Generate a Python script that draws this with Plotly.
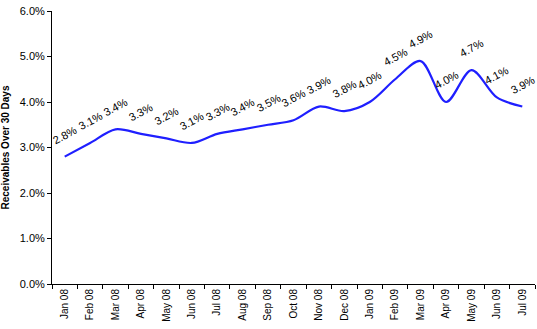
import plotly.graph_objects as go

# Monthly share of receivables more than 30 days past due
months = ["Jan 08", "Feb 08", "Mar 08", "Apr 08", "May 08", "Jun 08", "Jul 08",
          "Aug 08", "Sep 08", "Oct 08", "Nov 08", "Dec 08", "Jan 09", "Feb 09",
          "Mar 09", "Apr 09", "May 09", "Jun 09", "Jul 09"]
pct_over_30 = [2.8, 3.1, 3.4, 3.3, 3.2, 3.1, 3.3, 3.4, 3.5, 3.6, 3.9, 3.8,
               4.0, 4.5, 4.9, 4.0, 4.7, 4.1, 3.9]
y_ticks = [0, 1, 2, 3, 4, 5, 6]

FONT = "Liberation Sans, Arial, sans-serif"

fig = go.Figure()
fig.add_trace(go.Scatter(
    x=months,
    y=[v / 100 for v in pct_over_30],
    mode="lines",
    line=dict(color="#1f1fff", width=2.2, shape="spline", smoothing=0.9),
    hoverinfo="skip",
))

# Rotated value labels above each point
for m, v in zip(months, pct_over_30):
    fig.add_annotation(
        x=m, y=v / 100, xref="x", yref="y",
        text=f"{v:.1f}%", showarrow=False, textangle=-28,
        yshift=22, font=dict(family=FONT, size=11, color="#000000"),
    )

fig.update_layout(
    width=537, height=329,
    margin=dict(l=52, r=2, t=11, b=45),
    paper_bgcolor="white", plot_bgcolor="white",
    showlegend=False,
    font=dict(family=FONT, size=11, color="#000000"),
)
fig.update_xaxes(
    type="category", categoryorder="array", categoryarray=months,
    range=[-0.5, len(months) - 0.5],
    showline=True, linecolor="black", linewidth=1,
    ticks="outside", tickson="boundaries", ticklen=4, tickcolor="black",
    tickangle=-90, tickfont=dict(family=FONT, size=10),
    showgrid=False, zeroline=False,
)
fig.update_yaxes(
    range=[0, 0.06],
    tickvals=[t / 100 for t in y_ticks],
    ticktext=[f"{t:.1f}%" for t in y_ticks],
    showline=True, linecolor="black", linewidth=1,
    ticks="outside", ticklen=4, tickcolor="black",
    tickfont=dict(family=FONT, size=11),
    showgrid=False, zeroline=False,
    title=dict(text="<b>Receivables Over 30 Days</b>",
               font=dict(family=FONT, size=10), standoff=8),
)

fig.write_html("out.html")
